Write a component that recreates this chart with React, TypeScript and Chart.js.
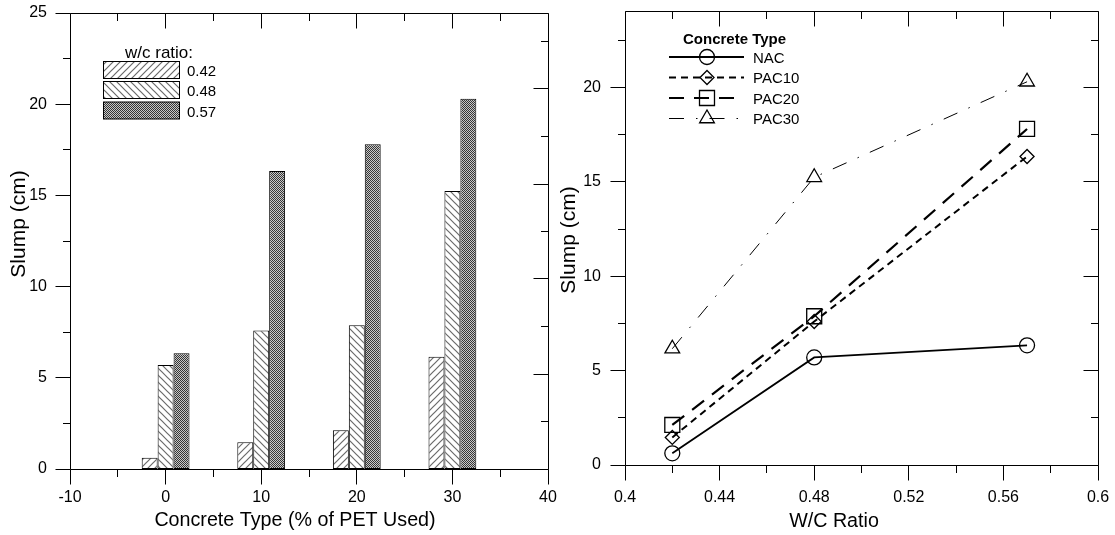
import { useEffect, useRef } from "react";
import { Chart, registerables } from "chart.js";

Chart.register(...registerables);

// ---------------- data ----------------
const PET_USED = [0, 10, 20, 30]; // % of PET used (bar groups, left chart)
const WC_RATIO = [0.42, 0.48, 0.57]; // w/c ratios (x values, right chart)
const WC_LABELS = ["0.42", "0.48", "0.57"];
const CONCRETE_TYPES = ["NAC", "PAC10", "PAC20", "PAC30"];
const SLUMP_NAC = [0.62, 5.7, 6.34];
const SLUMP_PAC10 = [1.46, 7.6, 16.34];
const SLUMP_PAC20 = [2.12, 7.88, 17.8];
const SLUMP_PAC30 = [6.16, 15.24, 20.3];

const LEFT_X_TICKS = [-10, 0, 10, 20, 30, 40];
const LEFT_X_MINOR = [-5, 5, 15, 25, 35];
const LEFT_Y_TICKS = [0, 5, 10, 15, 20, 25];
const LEFT_Y_MINOR = [2.5, 7.5, 12.5, 17.5, 22.5];
const LEFT_R_TICKS = [0, 5, 10, 15, 20];
const LEFT_R_MINOR = [2.5, 7.5, 12.5, 17.5, 22.5];
const RIGHT_X_TICKS = [0.4, 0.44, 0.48, 0.52, 0.56, 0.6];
const RIGHT_X_MINOR = [0.42, 0.46, 0.5, 0.54, 0.58];
const RIGHT_Y_TICKS = [0, 5, 10, 15, 20];
const RIGHT_Y_MINOR = [2.5, 7.5, 12.5, 17.5, 22.5];

const LEFT_X_TITLE = "Concrete Type (% of PET Used)";
const LEFT_Y_TITLE = "Slump (cm)";
const LEFT_LEGEND_TITLE = "w/c ratio:";
const RIGHT_X_TITLE = "W/C Ratio";
const RIGHT_Y_TITLE = "Slump (cm)";
const RIGHT_LEGEND_TITLE = "Concrete Type";

// ---------------- styles ----------------
const FONT = "'Liberation Sans', Arial, Helvetica, sans-serif";
const SERIES_STYLE = [
  { dash: [] as number[], width: 1.8, marker: "circle", radius: 7.5 },
  { dash: [7, 5], width: 2, marker: "rectRot", radius: 7 },
  { dash: [15, 10], width: 2.2, marker: "rect", radius: 10.6 },
  { dash: [15, 12, 1.5, 12], width: 1, marker: "triangle", radius: 8.5 },
];
const MAJOR_LEN = 15;
const MINOR_LEN = 7.5;

function makeHatch(dir: number) {
  const s = 7;
  const c = document.createElement("canvas");
  c.width = s;
  c.height = s;
  const g = c.getContext("2d")!;
  g.fillStyle = "#fff";
  g.fillRect(0, 0, s, s);
  g.strokeStyle = "#6a6a6a";
  g.lineWidth = 1.2;
  g.beginPath();
  for (const o of [-s, 0, s]) {
    if (dir > 0) {
      g.moveTo(o - 1, s + 1);
      g.lineTo(o + s + 1, -1);
    } else {
      g.moveTo(o - 1, -1);
      g.lineTo(o + s + 1, s + 1);
    }
  }
  g.stroke();
  return g.createPattern(c, "repeat")!;
}

function makeDots() {
  const c = document.createElement("canvas");
  c.width = 2;
  c.height = 2;
  const g = c.getContext("2d")!;
  g.fillStyle = "#c8c8c8";
  g.fillRect(0, 0, 2, 2);
  g.fillStyle = "#363636";
  g.fillRect(0, 0, 1, 1);
  g.fillRect(1, 1, 1, 1);
  return g.createPattern(c, "repeat")!;
}

function drawMarker(ctx: CanvasRenderingContext2D, style: string, x: number, y: number, r: number) {
  ctx.beginPath();
  if (style === "circle") {
    ctx.arc(x, y, r, 0, Math.PI * 2);
  } else if (style === "rectRot") {
    ctx.moveTo(x - r, y);
    ctx.lineTo(x, y - r);
    ctx.lineTo(x + r, y);
    ctx.lineTo(x, y + r);
    ctx.closePath();
  } else if (style === "rect") {
    const h = r * Math.SQRT1_2;
    ctx.rect(x - h, y - h, 2 * h, 2 * h);
  } else {
    let a = 0;
    ctx.moveTo(x + Math.sin(a) * r, y - Math.cos(a) * r);
    a += (2 * Math.PI) / 3;
    ctx.lineTo(x + Math.sin(a) * r, y - Math.cos(a) * r);
    a += (2 * Math.PI) / 3;
    ctx.lineTo(x + Math.sin(a) * r, y - Math.cos(a) * r);
    ctx.closePath();
  }
  ctx.stroke();
}

function fixBox(size: number, horizontal: boolean) {
  return (s: any) => {
    if (horizontal) s.height = size;
    else s.width = size;
    s.paddingLeft = 0;
    s.paddingRight = 0;
    s.paddingTop = 0;
    s.paddingBottom = 0;
  };
}

function setTicks(values: number[]) {
  return (s: any) => {
    s.ticks = values.map((value) => ({ value }));
  };
}

function framePlugin(spec: {
  xMajor: number[];
  xMinor: number[];
  yMajor: number[];
  yMinor: number[];
  rAxis: string;
  rMajor: number[];
  rMinor: number[];
}) {
  return {
    id: "frameTicks",
    afterDraw(chart: any) {
      const { ctx, chartArea: a, scales } = chart;
      const snap = (v: number) => Math.round(v - 0.5) + 0.5;
      const L = snap(a.left);
      const R = snap(a.right);
      const T = snap(a.top);
      const B = snap(a.bottom);
      ctx.save();
      ctx.setLineDash([]);
      ctx.strokeStyle = "#000";
      ctx.lineWidth = 1;
      ctx.beginPath();
      ctx.rect(L, T, R - L, B - T);
      const xs = scales.x;
      const ys = scales.y;
      const rs = scales[spec.rAxis];
      const xTick = (vals: number[], len: number) => {
        for (const v of vals) {
          const p = snap(xs.getPixelForValue(v));
          ctx.moveTo(p, B);
          ctx.lineTo(p, B + len);
          ctx.moveTo(p, T);
          ctx.lineTo(p, T + len);
        }
      };
      const yTick = (vals: number[], len: number) => {
        for (const v of vals) {
          const p = snap(ys.getPixelForValue(v));
          ctx.moveTo(L, p);
          ctx.lineTo(L - len, p);
        }
      };
      const rTick = (vals: number[], len: number) => {
        for (const v of vals) {
          const p = snap(rs.getPixelForValue(v));
          ctx.moveTo(R, p);
          ctx.lineTo(R - len, p);
        }
      };
      xTick(spec.xMajor, MAJOR_LEN);
      xTick(spec.xMinor, MINOR_LEN);
      yTick(spec.yMajor, MAJOR_LEN);
      yTick(spec.yMinor, MINOR_LEN);
      rTick(spec.rMajor, MAJOR_LEN);
      rTick(spec.rMinor, MINOR_LEN);
      ctx.stroke();
      ctx.restore();
    },
  };
}

function drawYTitle(ctx: CanvasRenderingContext2D, text: string, x: number, y: number, size: number) {
  ctx.save();
  ctx.translate(x, y);
  ctx.rotate(-Math.PI / 2);
  ctx.font = `${size}px ${FONT}`;
  ctx.fillStyle = "#000";
  ctx.textAlign = "center";
  ctx.textBaseline = "middle";
  ctx.fillText(text, 0, 0);
  ctx.restore();
}

function drawXTitle(ctx: CanvasRenderingContext2D, text: string, x: number, y: number, size: number) {
  ctx.save();
  ctx.font = `${size}px ${FONT}`;
  ctx.fillStyle = "#000";
  ctx.textAlign = "center";
  ctx.textBaseline = "alphabetic";
  ctx.fillText(text, x, y);
  ctx.restore();
}

const leftDecor = {
  id: "leftDecor",
  afterDraw(chart: any) {
    const ctx: CanvasRenderingContext2D = chart.ctx;
    drawYTitle(ctx, LEFT_Y_TITLE, 19, 224, 21);
    drawXTitle(ctx, LEFT_X_TITLE, 295, 526, 19.7);
    ctx.save();
    ctx.fillStyle = "#000";
    ctx.font = `17px ${FONT}`;
    ctx.textAlign = "left";
    ctx.textBaseline = "alphabetic";
    ctx.fillText(LEFT_LEGEND_TITLE, 125, 57.5);
    const tops = [61.5, 81.5, 102];
    chart.data.datasets.forEach((ds: any, i: number) => {
      const top = tops[i];
      ctx.fillStyle = ds.backgroundColor;
      ctx.fillRect(103.5, top, 76, 17);
      ctx.strokeStyle = "#000";
      ctx.lineWidth = 1;
      ctx.strokeRect(103.5, top, 76, 17);
      ctx.fillStyle = "#000";
      ctx.font = `15px ${FONT}`;
      ctx.fillText(ds.label, 187, top + 14.5);
    });
    ctx.restore();
  },
};

const rightDecor = {
  id: "rightDecor",
  afterDraw(chart: any) {
    const ctx: CanvasRenderingContext2D = chart.ctx;
    drawYTitle(ctx, RIGHT_Y_TITLE, 9, 240, 21);
    drawXTitle(ctx, RIGHT_X_TITLE, 274, 527, 19.7);
    ctx.save();
    ctx.fillStyle = "#000";
    ctx.textAlign = "left";
    ctx.textBaseline = "alphabetic";
    ctx.font = `bold 15px ${FONT}`;
    ctx.fillText(RIGHT_LEGEND_TITLE, 123, 44.3);
    const baselines = [62.5, 83, 103.5, 124];
    chart.data.datasets.forEach((ds: any, i: number) => {
      const st = SERIES_STYLE[i];
      const b = baselines[i];
      const y = b - 5.5;
      ctx.strokeStyle = "#000";
      ctx.lineWidth = ds.borderWidth;
      ctx.setLineDash(ds.borderDash || []);
      ctx.beginPath();
      ctx.moveTo(109, y);
      ctx.lineTo(184, y);
      ctx.stroke();
      ctx.setLineDash([]);
      ctx.lineWidth = 1.3;
      drawMarker(ctx, st.marker, 147, y, st.radius);
      ctx.fillStyle = "#000";
      ctx.font = `15px ${FONT}`;
      ctx.fillText(ds.label, 193, b);
    });
    ctx.restore();
  },
};

export default function App() {
  const leftRef = useRef<HTMLCanvasElement | null>(null);
  const rightRef = useRef<HTMLCanvasElement | null>(null);

  useEffect(() => {
    Chart.defaults.font.family = FONT;
    Chart.defaults.color = "#000";
    const slumpByType = [SLUMP_NAC, SLUMP_PAC10, SLUMP_PAC20, SLUMP_PAC30];
    const fills = [makeHatch(1), makeHatch(-1), makeDots()];
    const tickFont = { size: 16, family: FONT };

    const left = new Chart(leftRef.current!, {
      type: "bar",
      data: {
        datasets: WC_LABELS.map((label, j) => ({
          label,
          data: PET_USED.map((x, i) => ({ x, y: slumpByType[i][j] })),
          backgroundColor: fills[j],
          borderColor: "#000",
          borderWidth: 1,
          borderSkipped: false,
          categoryPercentage: 0.5,
          barPercentage: 1,
        })),
      } as any,
      options: {
        responsive: false,
        animation: false,
        events: [],
        layout: { padding: { top: 13, right: 12, left: 0, bottom: 0 } },
        plugins: { legend: { display: false }, tooltip: { enabled: false } },
        scales: {
          x: {
            type: "linear",
            min: -10,
            max: 40,
            offset: false,
            grid: { display: false, drawTicks: false, offset: false },
            border: { display: false },
            afterBuildTicks: setTicks(LEFT_X_TICKS),
            afterFit: fixBox(66, true),
            ticks: {
              padding: 19,
              font: tickFont,
              color: "#000",
              maxRotation: 0,
              autoSkip: false,
              callback: (v: any) => String(v),
            },
          },
          y: {
            type: "linear",
            min: 0,
            max: 25,
            grid: { display: false, drawTicks: false },
            border: { display: false },
            afterBuildTicks: setTicks(LEFT_Y_TICKS),
            afterFit: fixBox(70, false),
            ticks: { padding: 23, font: tickFont, color: "#000", callback: (v: any) => String(v) },
          },
          y2: {
            type: "linear",
            position: "right",
            min: 0,
            max: 24,
            display: false,
            afterFit: fixBox(0, false),
          },
        },
      } as any,
      plugins: [
        framePlugin({
          xMajor: LEFT_X_TICKS,
          xMinor: LEFT_X_MINOR,
          yMajor: LEFT_Y_TICKS,
          yMinor: LEFT_Y_MINOR,
          rAxis: "y2",
          rMajor: LEFT_R_TICKS,
          rMinor: LEFT_R_MINOR,
        }),
        leftDecor,
      ],
    });

    const right = new Chart(rightRef.current!, {
      type: "line",
      data: {
        datasets: CONCRETE_TYPES.map((label, i) => ({
          label,
          data: WC_RATIO.map((x, j) => ({ x, y: slumpByType[i][j] })),
          borderColor: "#000",
          borderWidth: SERIES_STYLE[i].width,
          borderDash: SERIES_STYLE[i].dash,
          pointStyle: SERIES_STYLE[i].marker,
          pointRadius: SERIES_STYLE[i].radius,
          pointBorderWidth: 1.3,
          pointBorderColor: "#000",
          pointBackgroundColor: "rgba(0,0,0,0)",
          fill: false,
          tension: 0,
        })),
      } as any,
      options: {
        responsive: false,
        animation: false,
        events: [],
        layout: { padding: { top: 6, right: 17, left: 0, bottom: 0 } },
        plugins: { legend: { display: false }, tooltip: { enabled: false } },
        scales: {
          x: {
            type: "linear",
            min: 0.4,
            max: 0.6,
            grid: { display: false, drawTicks: false },
            border: { display: false },
            afterBuildTicks: setTicks(RIGHT_X_TICKS),
            afterFit: fixBox(70, true),
            ticks: {
              padding: 23,
              font: tickFont,
              color: "#000",
              maxRotation: 0,
              autoSkip: false,
              callback: (v: any) => String(v),
            },
          },
          y: {
            type: "linear",
            min: 0,
            max: 24,
            grid: { display: false, drawTicks: false },
            border: { display: false },
            afterBuildTicks: setTicks(RIGHT_Y_TICKS),
            afterFit: fixBox(65, false),
            ticks: { padding: 24, font: tickFont, color: "#000", callback: (v: any) => String(v) },
          },
        },
      } as any,
      plugins: [
        framePlugin({
          xMajor: RIGHT_X_TICKS,
          xMinor: RIGHT_X_MINOR,
          yMajor: RIGHT_Y_TICKS,
          yMinor: RIGHT_Y_MINOR,
          rAxis: "y",
          rMajor: RIGHT_Y_TICKS,
          rMinor: RIGHT_Y_MINOR,
        }),
        rightDecor,
      ],
    });

    return () => {
      left.destroy();
      right.destroy();
    };
  }, []);

  return (
    <div style={{ position: "absolute", left: 0, top: 0, width: 1115, height: 535, background: "#fff" }}>
      <canvas
        ref={leftRef}
        width={560}
        height={535}
        style={{ position: "absolute", left: 0, top: 0, width: 560, height: 535 }}
      />
      <canvas
        ref={rightRef}
        width={555}
        height={535}
        style={{ position: "absolute", left: 560, top: 0, width: 555, height: 535 }}
      />
    </div>
  );
}
